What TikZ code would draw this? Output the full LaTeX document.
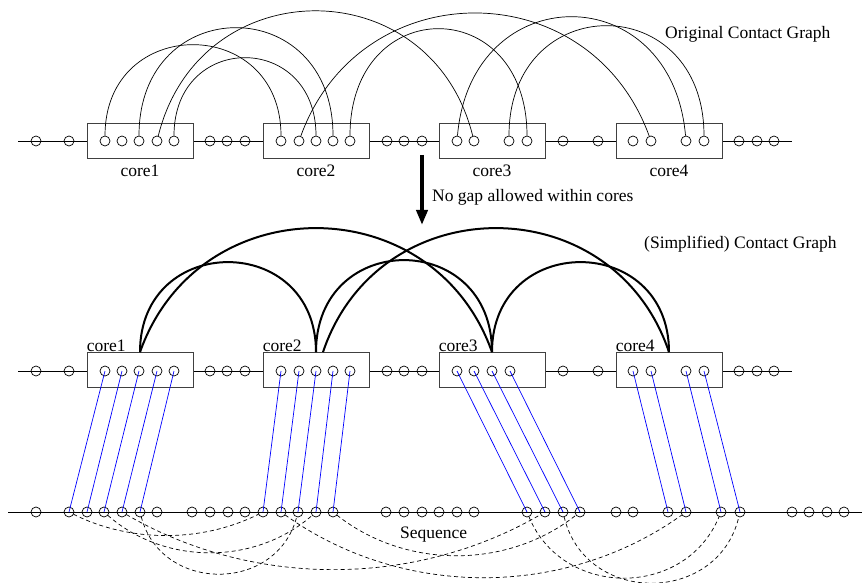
\documentclass[tikz,border=0pt]{standalone}
\usepackage{fontspec}
\setmainfont{Liberation Serif}
\usetikzlibrary{arrows.meta}
\newcommand\uparc[5]{%
  \pgfmathsetmacro\arcL{4*#4/(3*sin(#5))}%
  \pgfmathsetmacro\arcB{180-#5}%
  \draw[#1] (#2) .. controls +(#5:\arcL pt) and +(\arcB:\arcL pt) .. (#3);}
\newcommand\downarc[5]{%
  \pgfmathsetmacro\arcL{4*#4/(3*sin(#5))}%
  \pgfmathsetmacro\arcA{-#5}%
  \pgfmathsetmacro\arcB{180+#5}%
  \draw[#1] (#2) .. controls +(\arcA:\arcL pt) and +(\arcB:\arcL pt) .. (#3);}
\begin{document}
\begin{tikzpicture}[x=1pt,y=1pt,
  circ/.style={circle,draw,minimum size=10pt,inner sep=0pt,line width=0.7pt},
  corebox/.style={draw=black!75,fill=white,line width=0.8pt,minimum width=106pt,minimum height=35pt,inner sep=0pt},
  lbl/.style={font=\fontsize{17.5}{20}\selectfont,inner sep=0pt},
  baseline/.style={line width=0.8pt},
  thinarc/.style={line width=0.7pt},
  thickarc/.style={line width=2pt},
  dasharc/.style={line width=0.7pt,dash pattern=on 4pt off 3pt,shorten <=5pt,shorten >=5pt},
  blueline/.style={blue,line width=0.7pt}]
\useasboundingbox (0,0) rectangle (863,-583);
\fill[white] (0,0) rectangle (863,-583);
% base lines
\coordinate (tL) at (18,-141); \coordinate (tR) at (792,-141);
\coordinate (mL) at (18,-371); \coordinate (mR) at (792,-371);
\coordinate (sL) at (8,-512);  \coordinate (sR) at (862,-512);
\draw[baseline] (tL) -- (tR);
\draw[baseline] (mL) -- (mR);
\draw[baseline] (sL) -- (sR);
% boxes
\foreach \x [count=\i] in {140,316,492,669}{
  \node[corebox] (tb\i) at (\x,-140.5) {};
  \node[corebox] (mb\i) at (\x,-370) {};
  \node[lbl,anchor=base] (tl\i) at (\x,-177) {core\i};
  \node[lbl,anchor=base west] (ml\i) at ([yshift=0.5pt]mb\i.north west) {core\i};
}
% circles
\foreach \x [count=\i] in {36,69,105,122,139,157,174,210,227,245,281,299,316,333,350,387,404,422,457,474,509,527,563,598,633,651,686,704,739,757,774}
  \node[circ] (t\i) at (\x,-141) {};
\foreach \x [count=\i] in {36,69,105,122,139,157,174,210,227,245,281,299,316,333,350,387,404,422,457,474,492,510,563,598,633,651,686,704,739,757,774}
  \node[circ] (m\i) at (\x,-371) {};
\foreach \x [count=\i] in {36,69,87,104,122,140,157,192,210,228,245,263,281,298,316,333,386,404,422,439,457,474,527,545,563,580,616,633,668,686,721,740,792,809,827,844}
  \node[circ] (s\i) at (\x,-512) {};
% original contact graph arcs
\uparc{thinarc}{t3.90}{t11.90}{91}{90}
\uparc{thinarc}{t5.90}{t14.90}{108}{90}
\uparc{thinarc}{t6.76}{t20.104}{125}{76}
\uparc{thinarc}{t7.90}{t13.90}{78}{90}
\uparc{thinarc}{t12.70}{t26.110}{123}{70}
\uparc{thinarc}{t15.90}{t22.90}{107}{90}
\uparc{thinarc}{t19.85}{t27.95}{119}{85}
\uparc{thinarc}{t21.90}{t28.90}{110}{90}
% simplified contact graph arcs
\coordinate (mb2r) at ([xshift=7pt]mb2.north);
\uparc{thickarc}{mb1.north}{mb2.north}{90}{90}
\uparc{thickarc}{mb1.north}{mb3.north}{124}{70.5}
\uparc{thickarc}{mb2.north}{mb3.north}{92}{90}
\uparc{thickarc}{mb2r}{mb4.north}{124}{71.4}
\uparc{thickarc}{mb3.north}{mb4.north}{90}{90}
% blue mapping lines
\foreach \a/\b in {3/2,4/3,5/4,6/5,7/6,11/12,12/13,13/14,14/15,15/16,19/23,20/24,21/25,22/26,25/29,26/30,27/31,28/32}
  \draw[blueline] (m\a.center) -- (s\b.center);
% dashed arcs on the sequence
\downarc{dasharc}{s2.center}{s12.center}{23}{26.7}
\downarc{dasharc}{s4.center}{s15.center}{40}{41.4}
\downarc{dasharc}{s5.center}{s24.center}{57}{30.2}
\downarc{dasharc}{s6.center}{s14.center}{61}{75.3}
\downarc{dasharc}{s13.center}{s30.center}{65}{35.6}
\downarc{dasharc}{s16.center}{s26.center}{43}{38.4}
\downarc{dasharc}{s23.center}{s31.center}{65}{67.7}
\downarc{dasharc}{s25.center}{s32.center}{70}{76.7}
% arrow
\coordinate (arrS) at (422,-155); \coordinate (arrE) at (422,-225);
\draw[line width=4pt,-{Triangle[length=15pt,width=11pt]}] (arrS) -- (arrE);
% labels
\node[lbl,anchor=base west] (lorig) at (665,-39) {Original Contact Graph};
\node[lbl,anchor=base west] (lsimp) at (644,-248) {(Simplified) Contact Graph};
\node[lbl,anchor=base west] (lgap) at (432,-202) {No gap allowed within cores};
\node[lbl,anchor=base west] (lseq) at (400,-538) {Sequence};
\end{tikzpicture}
\end{document}
